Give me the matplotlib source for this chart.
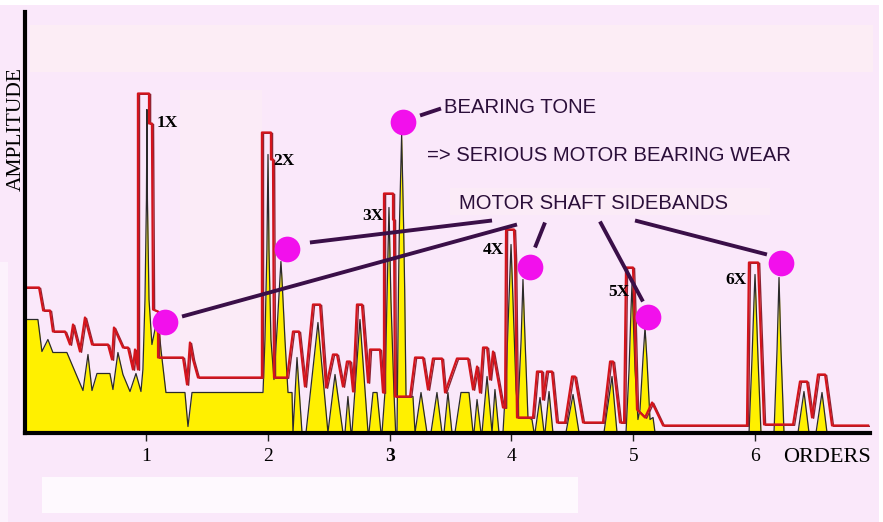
import matplotlib
matplotlib.use("Agg")
import matplotlib.pyplot as plt
from matplotlib.patches import Rectangle
import matplotlib.transforms as mtransforms

# ---- spectrum (orders, amplitude) ----
spec_order = [0.008, 0.015, 0.113, 0.146, 0.195, 0.236, 0.351, 0.483, 0.524, 0.557, 0.598, 0.704,
              0.729, 0.770, 0.811, 0.869, 0.918, 0.959, 0.975, 0.992, 1.004, 1.008, 1.012, 1.025,
              1.049, 1.074, 1.099, 1.123, 1.164, 1.320, 1.345, 1.378, 1.961, 1.977, 1.993, 2.002,
              2.010, 2.026, 2.051, 2.076, 2.100, 2.108, 2.117, 2.141, 2.166, 2.199, 2.207, 2.240,
              2.281, 2.314, 2.412, 2.494, 2.552, 2.617, 2.634, 2.658, 2.683, 2.691, 2.757, 2.823,
              2.831, 2.864, 2.897, 2.929, 2.938, 2.962, 2.979, 2.995, 3.011, 3.036, 3.050, 3.061,
              3.073, 3.081, 3.099, 3.115, 3.124, 3.135, 3.192, 3.209, 3.258, 3.307, 3.340, 3.389,
              3.430, 3.447, 3.479, 3.512, 3.537, 3.586, 3.652, 3.685, 3.693, 3.718, 3.750, 3.759,
              3.800, 3.841, 3.865, 3.898, 3.931, 3.956, 3.980, 3.997, 4.013, 4.038, 4.054, 4.080,
              4.095, 4.112, 4.136, 4.169, 4.186, 4.194, 4.235, 4.268, 4.276, 4.309, 4.341, 4.448,
              4.506, 4.555, 4.760, 4.826, 4.867, 4.941, 4.966, 4.982, 4.990, 4.998, 5.015, 5.039,
              5.056, 5.080, 5.097, 5.113, 5.138, 5.163, 5.179, 5.951, 5.975, 5.992, 6.000, 6.008,
              6.025, 6.049, 6.156, 6.181, 6.197, 6.213, 6.238, 6.353, 6.402, 6.443, 6.501, 6.550,
              6.591, 6.928]
spec_amp = [0, 113, 113, 81, 93, 80, 80, 42, 78, 42, 59, 59,
            43, 80, 58, 41, 59, 41, 63, 133, 233, 323, 233, 133,
            88, 103, 115, 83, 40, 40, 6, 40, 40, 93, 183, 278,
            183, 93, 53, 103, 153, 171, 153, 93, 40, 40, 0, 75,
            0, 0, 110, 0, 58, 0, 0, 36, 0, 0, 113, 0,
            0, 40, 40, 0, 0, 40, 133, 225, 133, 40, 0, 0,
            143, 208, 298, 208, 143, 36, 36, 0, 40, 0, 0, 40,
            0, 0, 40, 0, 0, 40, 40, 0, 0, 33, 0, 0,
            56, 0, 43, 0, 0, 53, 133, 188, 133, 43, 23, 93,
            153, 93, 15, 13, 0, 0, 35, 0, 0, 41, 0, 0,
            38, 0, 0, 56, 0, 0, 63, 123, 148, 123, 63, 13,
            23, 73, 105, 73, 13, 15, 0, 0, 73, 133, 158, 133,
            73, 0, 0, 83, 155, 83, 0, 0, 41, 0, 0, 40,
            0, 0]

# ---- baseline envelope (orders, amplitude) ----
env_order = [0.015, 0.122, 0.156, 0.212, 0.236, 0.335, 0.376, 0.401, 0.458, 0.499, 0.557, 0.688,
             0.721, 0.737, 0.811, 0.852, 0.893, 0.910, 0.934, 0.934, 1.025, 1.025, 1.049, 1.058,
             1.099, 1.099, 1.304, 1.337, 1.361, 1.386, 1.427, 1.952, 1.952, 2.026, 2.026, 2.043,
             2.051, 2.158, 2.207, 2.256, 2.305, 2.371, 2.429, 2.478, 2.535, 2.568, 2.617, 2.650,
             2.675, 2.700, 2.732, 2.773, 2.823, 2.839, 2.921, 2.946, 2.954, 2.954, 3.028, 3.028,
             3.036, 3.044, 3.168, 3.209, 3.274, 3.315, 3.356, 3.430, 3.455, 3.553, 3.644, 3.685,
             3.718, 3.742, 3.767, 3.800, 3.824, 3.849, 3.931, 3.948, 3.956, 4.021, 4.030, 4.046,
             4.177, 4.210, 4.251, 4.259, 4.292, 4.333, 4.374, 4.440, 4.498, 4.522, 4.588, 4.752,
             4.810, 4.834, 4.892, 4.925, 4.941, 4.998, 5.007, 5.031, 5.097, 5.155, 5.245, 5.934,
             5.950, 6.025, 6.033, 6.074, 6.312, 6.369, 6.427, 6.468, 6.517, 6.575, 6.632, 6.928]
env_amp = [145, 145, 122, 122, 101, 101, 88, 108, 81, 115, 88, 88,
           73, 105, 85, 85, 63, 83, 63, 339, 339, 309, 309, 123,
           121, 75, 75, 48, 90, 73, 55, 55, 300, 300, 273, 273,
           55, 55, 101, 101, 46, 128, 128, 45, 78, 78, 46, 71,
           71, 41, 128, 128, 50, 83, 83, 40, 40, 239, 239, 213,
           213, 36, 36, 75, 75, 43, 74, 74, 40, 74, 74, 43,
           66, 40, 85, 85, 53, 81, 25, 25, 203, 203, 173, 15,
           15, 61, 61, 33, 61, 61, 10, 10, 56, 56, 10, 10,
           71, 71, 10, 10, 165, 165, 133, 23, 15, 30, 7, 7,
           170, 170, 143, 8, 8, 51, 51, 15, 58, 58, 7, 7]

# ---- harmonics and marked tones ----
harm_names = ["1X", "2X", "3X", "4X", "5X", "6X"]
harm_label_order = [1.172, 2.133, 2.864, 3.849, 4.883, 5.844]
harm_label_amp = [310, 272, 216, 183, 141, 152]

tone_order = [1.156, 2.158, 3.110, 4.153, 5.122, 6.213]
tone_amp = [111, 184, 311, 166, 116, 170]

# callout segments: (order0, amp0, order1, amp1)
callouts = [(1.296, 116, 4.046, 208),
            (2.346, 190, 3.841, 212),
            (4.276, 210, 4.194, 185),
            (4.727, 211, 5.080, 131),
            (5.015, 212, 6.098, 178),
            (3.250, 317, 3.422, 324)]

notes = ["BEARING TONE", "=> SERIOUS MOTOR BEARING WEAR", "MOTOR SHAFT SIDEBANDS"]
note_order = [3.448, 3.307, 3.570]
note_amp = [325, 277, 229]

tick_orders = [1, 2, 3, 4, 5, 6]
tick_labels = ["1", "2", "3", "4", "5", "6"]

W, H = 883, 522
fig = plt.figure(figsize=(W / 100, H / 100), dpi=100)
fig.patch.set_facecolor("white")


def fig_rect(x0, y0, x1, y1, color):
    fig.patches.append(Rectangle((x0 / W, 1 - y1 / H), (x1 - x0) / W, (y1 - y0) / H,
                                 transform=fig.transFigure, facecolor=color,
                                 edgecolor="none", zorder=-10))


# page background with faint lighter panels
fig_rect(0, 5, 879, 522, "#fae8fa")
fig_rect(0, 262, 8, 522, "#fcf2fc")
fig_rect(30, 25, 873, 72, "#fcedf5")
fig_rect(180, 90, 262, 378, "#fbebf7")
fig_rect(450, 188, 770, 215, "#fbebf7")
fig_rect(42, 477, 578, 513, "#fef9fe")

ax = fig.add_axes([25 / W, (522 - 432.5) / H, (870 - 25) / W, (432.5 - 12) / H])
ax.set_facecolor("none")
ax.set_xlim(0.007, 6.944)
ax.set_ylim(0, 420.5)

# spectrum
ax.fill_between(spec_order, spec_amp, 0, color="#fff000", lw=0, zorder=2)
ax.plot(spec_order, spec_amp, color="#2a2a2a", lw=0.9, zorder=3)

# envelope with a dark shadow line
shadow = ax.transData + mtransforms.ScaledTranslation(1.6 / 100, -0.8 / 100, fig.dpi_scale_trans)
ax.plot(env_order, env_amp, color="#8c2535", lw=1.0, zorder=3.5, transform=shadow)
ax.plot(env_order, env_amp, color="#d4141c", lw=1.6, zorder=4)

# callouts
for o0, a0, o1, a1 in callouts:
    ax.plot([o0, o1], [a0, a1], color="#3a0f48", lw=2.8, solid_capstyle="butt", zorder=5)

ax.plot(tone_order, tone_amp, "o", ms=18.5, color="#f210ec", mec="none", zorder=6)

for name, xo, ya in zip(harm_names, harm_label_order, harm_label_amp):
    ax.text(xo, ya, name, ha="center", va="center", fontsize=12.5, fontweight="bold",
            family="Liberation Serif", color="black", zorder=7)

for txt, xo, ya in zip(notes, note_order, note_amp):
    ax.text(xo, ya, txt, ha="left", va="center", fontsize=14.6,
            family="Liberation Sans", color="#2b0f3a", zorder=7)

# axes styling
for side in ("top", "right"):
    ax.spines[side].set_visible(False)
ax.spines["left"].set_linewidth(3.0)
ax.spines["bottom"].set_linewidth(3.0)
ax.spines["left"].set_zorder(8)
ax.spines["bottom"].set_zorder(8)
ax.set_yticks([])
ax.set_xticks(tick_orders)
ax.set_xticklabels(tick_labels, family="Liberation Serif", fontsize=14)
ax.get_xticklabels()[2].set_fontweight("bold")
ax.tick_params(axis="x", direction="inout", length=12, width=1.0, color="#222222", pad=5)

fig.text(783 / W, 1 - 457 / H, "ORDERS", ha="left", va="center", fontsize=16,
         family="Liberation Serif", color="black")
fig.text(16 / W, 1 - 129 / H, "AMPLITUDE", ha="center", va="center", rotation=90,
         fontsize=15.5, family="Liberation Serif", color="black")

fig.savefig("out.png", dpi=100, facecolor=fig.get_facecolor())
